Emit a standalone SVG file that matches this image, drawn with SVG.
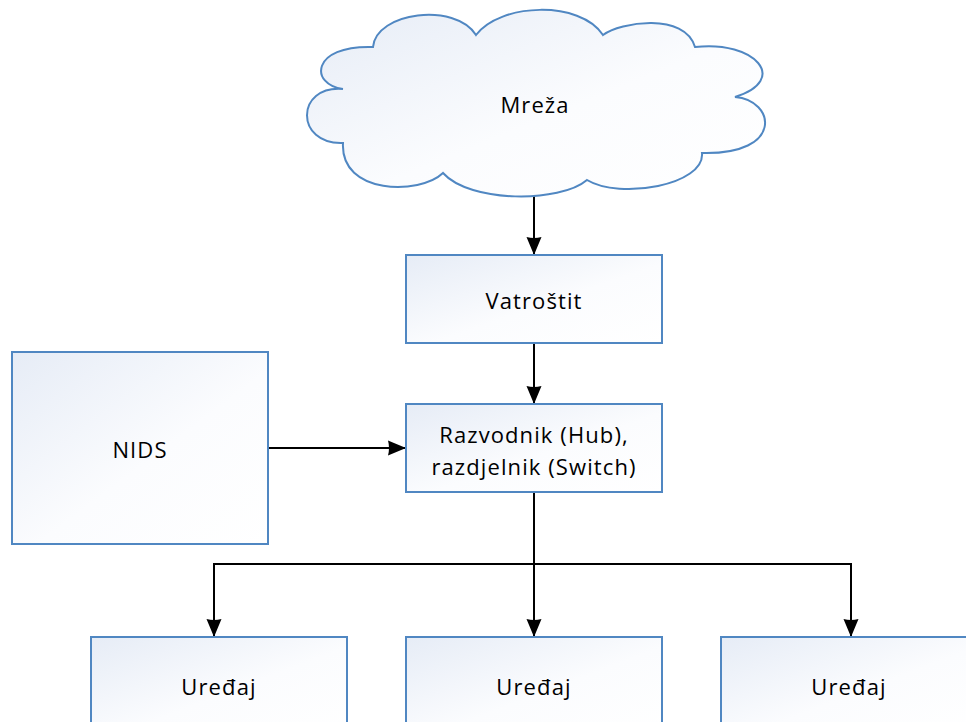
<svg xmlns="http://www.w3.org/2000/svg" width="966" height="722" viewBox="0 0 966 722">
<defs>
<linearGradient id="fill" x1="0" y1="0" x2="1" y2="1">
<stop offset="0" stop-color="#E6ECF6"/>
<stop offset="0.55" stop-color="#FBFCFE"/>
<stop offset="1" stop-color="#FFFFFF"/>
</linearGradient>
<marker id="arrow" markerWidth="18" markerHeight="16" refX="18" refY="8" orient="auto" markerUnits="userSpaceOnUse">
<path d="M0,0.5 L18,8 L0,15.5 Q2,8 0,0.5 Z" fill="#000"/>
</marker>
</defs>
<style>
.shape{fill:url(#fill);stroke:#5087C2;stroke-width:2}
.lbl{font-family:"Open Sans","Liberation Sans",sans-serif;font-size:22px;letter-spacing:1.1px;fill:#000;text-anchor:middle;dominant-baseline:central}
.conn{fill:none;stroke:#000;stroke-width:2}
</style>
<rect width="966" height="722" fill="#fff"/>
<g id="connectors">
<path class="conn" d="M534,195 L534,255" marker-end="url(#arrow)"/>
<path class="conn" d="M534,343 L534,404" marker-end="url(#arrow)"/>
<path class="conn" d="M268,448 L406,448" marker-end="url(#arrow)"/>
<path class="conn" d="M534,492 L534,637" marker-end="url(#arrow)"/>
<path class="conn" d="M534,564 L214,564 L214,637" marker-end="url(#arrow)"/>
<path class="conn" d="M534,564 L851,564 L851,637" marker-end="url(#arrow)"/>
</g>
<g id="mreza">
<path class="shape" d="M373,47 C376,12 455,2 476,35 C500,3 580,0 603,35 C620,22 685,12 695,47 C755,40 790,80 735,97 C775,100 785,155 702,153 C705,185 620,200 587,180 C560,203 470,203 443,173 C420,195 340,195 343,143 C295,145 295,85 343,89 C310,85 310,45 373,47 Z"/>
<text class="lbl" x="535" y="104">Mreža</text>
</g>
<g id="vatrostit">
<rect class="shape" x="406" y="255" width="256" height="88"/>
<text class="lbl" x="534" y="300">Vatroštit</text>
</g>
<g id="razvodnik">
<rect class="shape" x="406" y="404" width="256" height="88"/>
<text class="lbl" x="534" y="434">Razvodnik (Hub),</text>
<text class="lbl" x="534" y="466">razdjelnik (Switch)</text>
</g>
<g id="nids">
<rect class="shape" x="12" y="352" width="256" height="192"/>
<text class="lbl" x="140" y="449">NIDS</text>
</g>
<g id="uredaj1">
<rect class="shape" x="91" y="637" width="256" height="98"/>
<text class="lbl" x="219" y="686">Uređaj</text>
</g>
<g id="uredaj2">
<rect class="shape" x="406" y="637" width="256" height="98"/>
<text class="lbl" x="534" y="686">Uređaj</text>
</g>
<g id="uredaj3">
<rect class="shape" x="721" y="637" width="256" height="98"/>
<text class="lbl" x="849" y="686">Uređaj</text>
</g>
</svg>
